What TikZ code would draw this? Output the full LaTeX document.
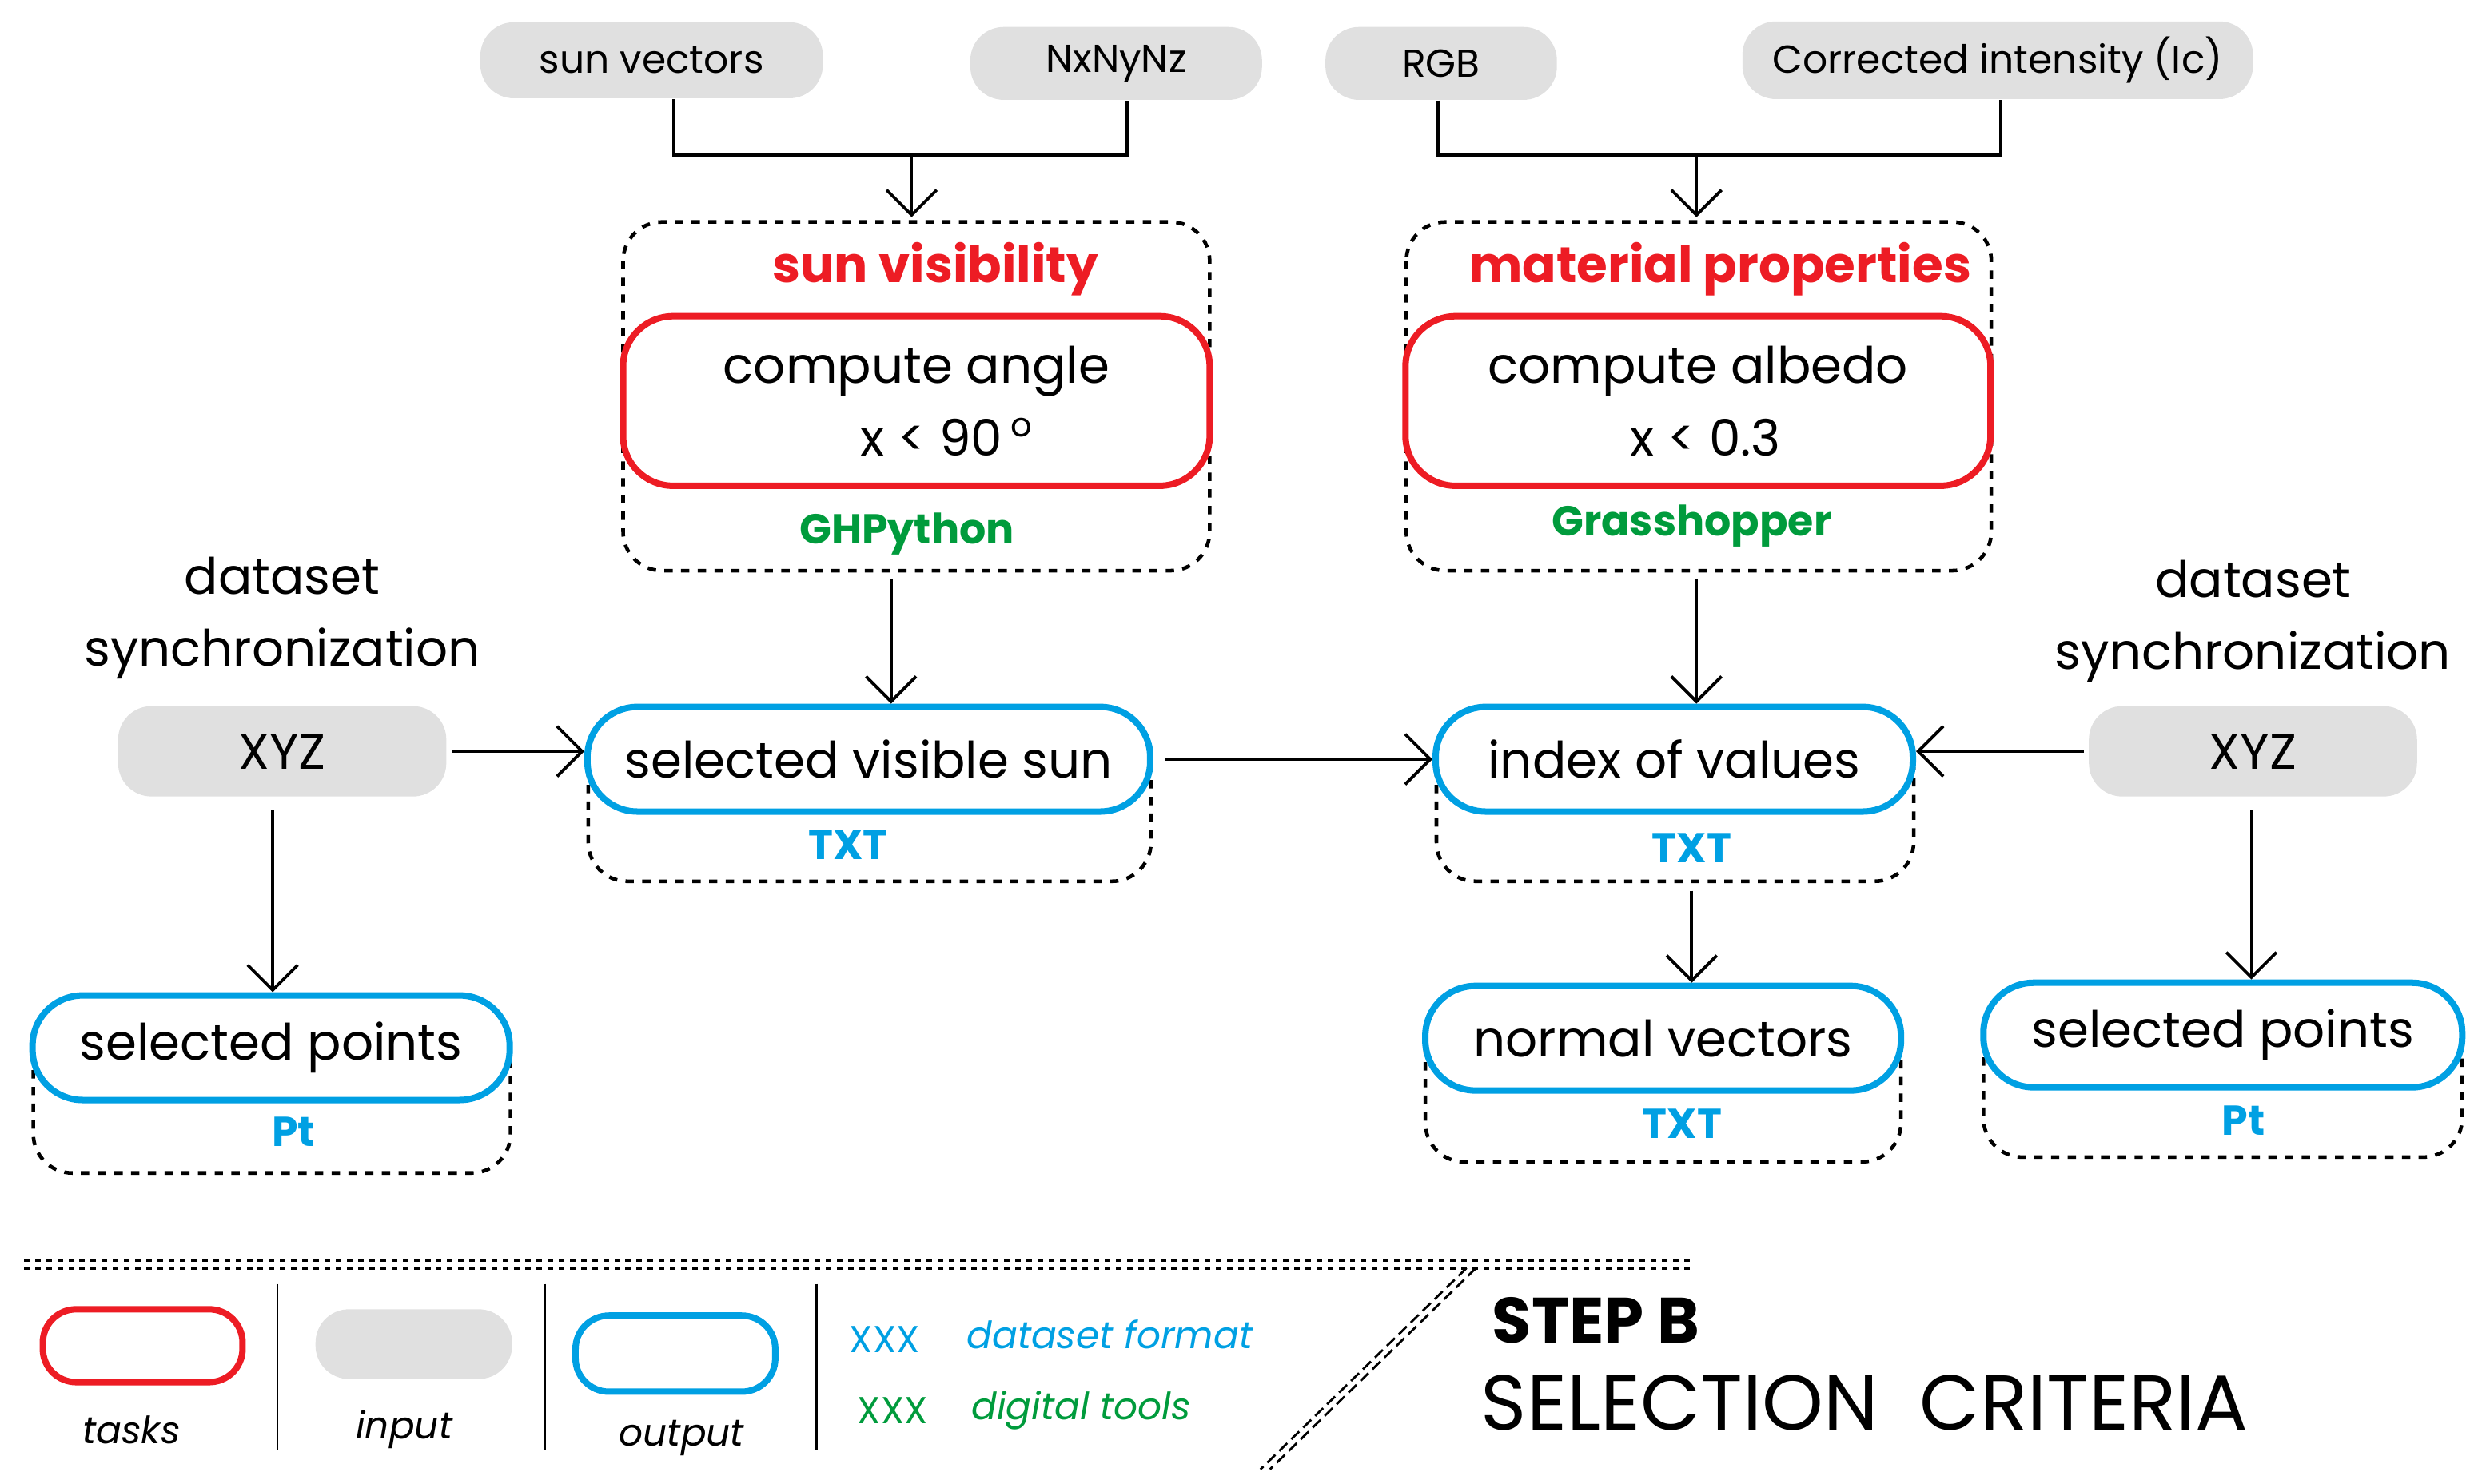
\documentclass[tikz,border=0pt]{standalone}
\usepackage{fontspec}
\setmainfont{Poppins}
\usetikzlibrary{arrows.meta}
\definecolor{taskred}{RGB}{237,28,36}
\definecolor{outblue}{RGB}{0,160,227}
\definecolor{toolgreen}{RGB}{0,155,60}
\definecolor{inputgray}{RGB}{224,224,224}
\begin{document}
\begin{tikzpicture}[x=0.02cm, y=-0.02cm]
    \tikzset{input/.style={rectangle, rounded corners=12pt, fill=inputgray,
        inner sep=0pt, font=\fontsize{14}{16}\selectfont}}
    \tikzset{task/.style={rectangle, rounded corners=18pt, draw=taskred,
        line width=2.3pt, fill=white, inner sep=0pt, align=center,
        font=\fontsize{18}{26}\selectfont}}
    \tikzset{output/.style={rectangle, rounded corners=18pt, draw=outblue,
        line width=2.3pt, fill=white, inner sep=0pt,
        font=\fontsize{18}{22}\selectfont}}
    \tikzset{frame/.style={draw, dashed, line width=1.3pt, rounded corners=14pt}}
    \tikzset{title/.style={text=taskred, font=\fontsize{18}{22}\bfseries\selectfont}}
    \tikzset{tool/.style={text=toolgreen, font=\fontsize{15}{18}\bfseries\selectfont}}
    \tikzset{format/.style={text=outblue, font=\fontsize{15}{18}\bfseries\selectfont}}
    \tikzset{plain/.style={font=\fontsize{18}{26}\selectfont, align=center}}
    \tikzset{legend/.style={font=\fontsize{13.5}{16}\itshape\selectfont}}
    \tikzset{arrow/.style={line width=1.1pt, -{Straight Barb[length=9pt]}}}
    \tikzset{line/.style={line width=1.1pt}}

    \useasboundingbox (0,0) rectangle (1568,936);

    % inputs
    \node (sunvec) [input, minimum width=216*0.02cm, minimum height=48*0.02cm] at (411,38) {sun vectors};
    \node (nxyz) [input, minimum width=184*0.02cm, minimum height=46*0.02cm] at (704,40) {NxNyNz};
    \node (rgb) [input, minimum width=146*0.02cm, minimum height=46*0.02cm] at (909,40) {RGB};
    \node (ic) [input, minimum width=322*0.02cm, minimum height=49*0.02cm] at (1260,38) {Corrected intensity (Ic)};
    \coordinate (mergeA) at (575,98);
    \coordinate (mergeB) at (1070,98);

    % tasks
    \draw [frame] (393,140) rectangle (763,360);
    \node (suntitle) [title] at (590,170) {sun visibility};
    \node (angle) [task, minimum width=370*0.02cm, minimum height=107*0.02cm] at (578,253) {compute angle\\\hspace*{1.2em}x < 90\,\raisebox{0.7ex}{\fontsize{12}{12}\selectfont o}};
    \node (ghpython) [tool] at (572,337) {GHPython};

    \draw [frame] (887,140) rectangle (1256,360);
    \node (mattitle) [title] at (1085,170) {material properties};
    \node (albedo) [task, minimum width=369*0.02cm, minimum height=107*0.02cm] at (1071,253) {compute albedo\\\hspace*{0.3em}x < 0.3};
    \node (grasshopper) [tool] at (1067,332) {Grasshopper};

    % dataset synchronization
    \node (syncL) [plain] at (178,390) {dataset\\synchronization};
    \node (xyzL) [input, minimum width=207*0.02cm, minimum height=57*0.02cm,
        font=\fontsize{18}{22}\selectfont] at (178,474) {XYZ};
    \node (syncR) [plain] at (1421,392) {dataset\\synchronization};
    \node (xyzR) [input, minimum width=207*0.02cm, minimum height=57*0.02cm,
        font=\fontsize{18}{22}\selectfont] at (1421,474) {XYZ};

    % outputs
    \draw [frame] (371,460) rectangle (726,556);
    \node (visible) [output, minimum width=355*0.02cm, minimum height=66*0.02cm] at (548,479) {selected visible sun};
    \node (txtA) [format] at (535,533) {TXT};

    \draw [frame] (906,460) rectangle (1207,556);
    \node (index) [output, minimum width=301*0.02cm, minimum height=66*0.02cm] at (1056,479) {index of values};
    \node (txtB) [format] at (1067,535) {TXT};

    \draw [frame] (21,640) rectangle (322,740);
    \node (pointsL) [output, minimum width=301*0.02cm, minimum height=66*0.02cm] at (171,661) {selected points};
    \node (ptL) [format] at (185,714) {Pt};

    \draw [frame] (899,635) rectangle (1199,733);
    \node (normals) [output, minimum width=300*0.02cm, minimum height=66*0.02cm] at (1049,655) {normal vectors};
    \node (txtC) [format] at (1061,709) {TXT};

    \draw [frame] (1251,632) rectangle (1553,730);
    \node (pointsR) [output, minimum width=302*0.02cm, minimum height=66*0.02cm] at (1402,653) {selected points};
    \node (ptR) [format] at (1415,707) {Pt};

    % connectors
    \draw [line] (sunvec.south -| 425,0) |- (mergeA) -| (nxyz.south -| 711,0);
    \draw [arrow] (mergeA) -- (575,137);
    \draw [line] (rgb.south -| 907,0) |- (mergeB) -| (ic.south -| 1262,0);
    \draw [arrow] (mergeB) -- (1070,137);
    \draw [arrow] (562,365) -- (visible.north -| 562,0);
    \draw [arrow] (1070,365) -- (index.north -| 1070,0);
    \draw [arrow] (xyzL.east) ++(3,0) -- (visible.west |- xyzL.east);
    \draw [arrow] (visible.east) ++(7,0) -- (index.west);
    \draw [arrow] (xyzR.west) ++(-3,0) -- (index.east |- xyzR.west);
    \draw [arrow] (xyzL.south -| 172,0) ++(0,8) -- (pointsL.north -| 172,0);
    \draw [arrow] (1067,562) -- (normals.north -| 1067,0);
    \draw [arrow] (xyzR.south -| 1420,0) ++(0,8) -- (pointsR.north -| 1420,0);

    % legend
    \draw [line width=1.2pt, dash pattern=on 2pt off 2pt] (15,795) -- (1068,795);
    \draw [line width=1.2pt, dash pattern=on 2pt off 2pt] (15,800) -- (1068,800);
    \draw [line width=0.8pt, dash pattern=on 4pt off 2pt] (925,800) -- (795,927);
    \draw [line width=0.8pt, dash pattern=on 4pt off 2pt] (931,800) -- (801,927);
    \node (legtask) [task, minimum width=126*0.02cm, minimum height=46*0.02cm, rounded corners=12pt] at (90,849) {};
    \node (legtasktxt) [legend] at (83,902) {tasks};
    \draw [line width=0.6pt] (175,810) -- (175,915);
    \node (leginput) [input, minimum width=124*0.02cm, minimum height=44*0.02cm] at (261,848) {};
    \node (leginputtxt) [legend] at (255,902) {input};
    \draw [line width=0.6pt] (344,810) -- (344,915);
    \node (legoutput) [output, minimum width=126*0.02cm, minimum height=48*0.02cm, rounded corners=12pt] at (426,854) {};
    \node (legoutputtxt) [legend] at (430,907) {output};
    \draw [line width=0.6pt] (515,810) -- (515,915);
    \node (xxxA) [text=outblue, font=\fontsize{13.5}{16}\selectfont] at (558,845) {XXX};
    \node (legformat) [legend, text=outblue] at (700,842) {dataset format};
    \node (xxxB) [text=toolgreen, font=\fontsize{13.5}{16}\selectfont] at (563,890) {XXX};
    \node (legtools) [legend, text=toolgreen] at (682,890) {digital tools};
    \node (stepb) [anchor=west, font=\fontsize{23}{26}\bfseries\selectfont] at (935,833) {STEP B};
    \node (criteria) [anchor=west, font=\fontsize{28}{32}\selectfont] at (928,885) {SELECTION\ \ CRITERIA};
\end{tikzpicture}
\end{document}
